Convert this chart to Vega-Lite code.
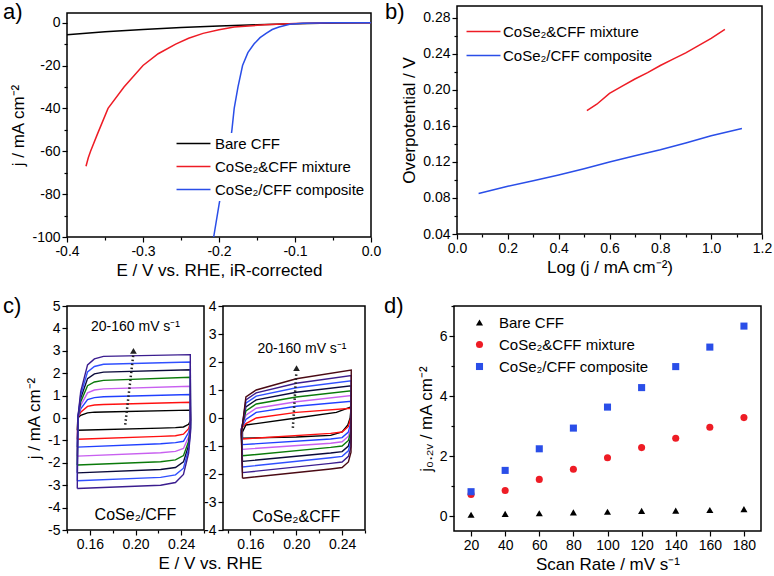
{
"$schema":"https://vega.github.io/schema/vega-lite/v6.json",
"background":"white",
"padding":{"left":2,"top":0,"right":0,"bottom":0},
"spacing":15,
"resolve":{"scale":{"color":"independent","shape":"independent"},"legend":{"color":"independent","shape":"independent"}},
"config":{
 "font":"Liberation Sans",
 "view":{"stroke":"black","strokeWidth":1.5},
 "axis":{"grid":false,"domain":false,"tickColor":"black","tickWidth":1.2,"tickSize":5,"labelColor":"black","titleColor":"black","labelFontSize":14,"titleFontSize":17,"titleFontWeight":"normal","labelPadding":2,"titlePadding":4,"labelFont":"Liberation Sans","titleFont":"Liberation Sans","labelOverlap":false,"labelFlush":false,"labelSeparation":0},
 "legend":{"labelFont":"Liberation Sans","labelFontSize":15,"labelColor":"black","labelLimit":400},
 "title":{"font":"Liberation Sans","fontWeight":"normal","fontSize":22,"color":"black","anchor":"start","frame":"group","orient":"top","baseline":"top","offset":0},
 "text":{"font":"Liberation Sans"}
},
"datasets":{
 "a":[
  {"s":"Bare CFF","x":-0.4,"y":-5.6},{"s":"Bare CFF","x":-0.35,"y":-4.3},{"s":"Bare CFF","x":-0.3,"y":-3.2},{"s":"Bare CFF","x":-0.25,"y":-2.3},{"s":"Bare CFF","x":-0.2,"y":-1.6},{"s":"Bare CFF","x":-0.15,"y":-1.0},{"s":"Bare CFF","x":-0.1,"y":-0.5},{"s":"Bare CFF","x":-0.05,"y":-0.2},{"s":"Bare CFF","x":0,"y":0},
  {"s":"CoSe₂&CFF mixture","x":-0.375,"y":-67},{"s":"CoSe₂&CFF mixture","x":-0.372,"y":-63},{"s":"CoSe₂&CFF mixture","x":-0.369,"y":-60},{"s":"CoSe₂&CFF mixture","x":-0.36,"y":-52},{"s":"CoSe₂&CFF mixture","x":-0.346,"y":-40},{"s":"CoSe₂&CFF mixture","x":-0.325,"y":-30},{"s":"CoSe₂&CFF mixture","x":-0.3,"y":-20},{"s":"CoSe₂&CFF mixture","x":-0.28,"y":-14.5},{"s":"CoSe₂&CFF mixture","x":-0.257,"y":-10},{"s":"CoSe₂&CFF mixture","x":-0.24,"y":-7.3},{"s":"CoSe₂&CFF mixture","x":-0.221,"y":-5},{"s":"CoSe₂&CFF mixture","x":-0.2,"y":-3.3},{"s":"CoSe₂&CFF mixture","x":-0.18,"y":-2},{"s":"CoSe₂&CFF mixture","x":-0.14,"y":-1},{"s":"CoSe₂&CFF mixture","x":-0.1,"y":-0.4},{"s":"CoSe₂&CFF mixture","x":-0.05,"y":-0.1},{"s":"CoSe₂&CFF mixture","x":0,"y":0},
  {"s":"CoSe₂/CFF composite","x":-0.207,"y":-100},{"s":"CoSe₂/CFF composite","x":-0.2,"y":-85},{"s":"CoSe₂/CFF composite","x":-0.195,"y":-75},{"s":"CoSe₂/CFF composite","x":-0.19,"y":-66},{"s":"CoSe₂/CFF composite","x":-0.186,"y":-58},{"s":"CoSe₂/CFF composite","x":-0.183,"y":-50},{"s":"CoSe₂/CFF composite","x":-0.18,"y":-40},{"s":"CoSe₂/CFF composite","x":-0.175,"y":-30},{"s":"CoSe₂/CFF composite","x":-0.169,"y":-20},{"s":"CoSe₂/CFF composite","x":-0.162,"y":-14},{"s":"CoSe₂/CFF composite","x":-0.154,"y":-10},{"s":"CoSe₂/CFF composite","x":-0.146,"y":-7},{"s":"CoSe₂/CFF composite","x":-0.138,"y":-5},{"s":"CoSe₂/CFF composite","x":-0.13,"y":-3.2},{"s":"CoSe₂/CFF composite","x":-0.121,"y":-2},{"s":"CoSe₂/CFF composite","x":-0.107,"y":-0.8},{"s":"CoSe₂/CFF composite","x":-0.09,"y":-0.3},{"s":"CoSe₂/CFF composite","x":-0.05,"y":-0.1},{"s":"CoSe₂/CFF composite","x":0,"y":0}
 ],
 "b":[
  {"s":"CoSe₂&CFF mixture","x":0.511,"y":0.177},{"s":"CoSe₂&CFF mixture","x":0.55,"y":0.184},{"s":"CoSe₂&CFF mixture","x":0.6,"y":0.196},{"s":"CoSe₂&CFF mixture","x":0.65,"y":0.204},{"s":"CoSe₂&CFF mixture","x":0.7,"y":0.212},{"s":"CoSe₂&CFF mixture","x":0.75,"y":0.219},{"s":"CoSe₂&CFF mixture","x":0.8,"y":0.227},{"s":"CoSe₂&CFF mixture","x":0.85,"y":0.234},{"s":"CoSe₂&CFF mixture","x":0.9,"y":0.241},{"s":"CoSe₂&CFF mixture","x":0.95,"y":0.249},{"s":"CoSe₂&CFF mixture","x":1.0,"y":0.257},{"s":"CoSe₂&CFF mixture","x":1.054,"y":0.267},
  {"s":"CoSe₂/CFF composite","x":0.085,"y":0.085},{"s":"CoSe₂/CFF composite","x":0.2,"y":0.093},{"s":"CoSe₂/CFF composite","x":0.3,"y":0.099},{"s":"CoSe₂/CFF composite","x":0.4,"y":0.1055},{"s":"CoSe₂/CFF composite","x":0.5,"y":0.1125},{"s":"CoSe₂/CFF composite","x":0.6,"y":0.12},{"s":"CoSe₂/CFF composite","x":0.7,"y":0.1268},{"s":"CoSe₂/CFF composite","x":0.8,"y":0.1334},{"s":"CoSe₂/CFF composite","x":0.9,"y":0.141},{"s":"CoSe₂/CFF composite","x":1.0,"y":0.149},{"s":"CoSe₂/CFF composite","x":1.121,"y":0.157}
 ],
 "cl":[
  {"k":1,"o":1,"x":0.149,"y":-0.55},{"k":1,"o":2,"x":0.1495,"y":0},{"k":1,"o":3,"x":0.152,"y":0.12},{"k":1,"o":4,"x":0.158,"y":0.23},{"k":1,"o":5,"x":0.164,"y":0.26},{"k":1,"o":6,"x":0.172,"y":0.27},{"k":1,"o":7,"x":0.248,"y":0.35},{"k":1,"o":8,"x":0.2482,"y":-0.11},{"k":1,"o":9,"x":0.2465,"y":-0.28},{"k":1,"o":10,"x":0.242,"y":-0.4},{"k":1,"o":11,"x":0.235,"y":-0.43},{"k":1,"o":12,"x":0.222,"y":-0.45},{"k":1,"o":13,"x":0.149,"y":-0.55},
  {"k":2,"o":1,"x":0.149,"y":-0.95},{"k":2,"o":2,"x":0.1495,"y":0},{"k":2,"o":3,"x":0.152,"y":0.26},{"k":2,"o":4,"x":0.158,"y":0.52},{"k":2,"o":5,"x":0.164,"y":0.58},{"k":2,"o":6,"x":0.172,"y":0.6},{"k":2,"o":7,"x":0.248,"y":0.7},{"k":2,"o":8,"x":0.2482,"y":-0.19},{"k":2,"o":9,"x":0.2465,"y":-0.48},{"k":2,"o":10,"x":0.242,"y":-0.72},{"k":2,"o":11,"x":0.235,"y":-0.79},{"k":2,"o":12,"x":0.222,"y":-0.82},{"k":2,"o":13,"x":0.149,"y":-0.95},
  {"k":3,"o":1,"x":0.149,"y":-1.3},{"k":3,"o":2,"x":0.1495,"y":0},{"k":3,"o":3,"x":0.152,"y":0.41},{"k":3,"o":4,"x":0.158,"y":0.82},{"k":3,"o":5,"x":0.164,"y":0.91},{"k":3,"o":6,"x":0.172,"y":0.95},{"k":3,"o":7,"x":0.248,"y":1.05},{"k":3,"o":8,"x":0.2482,"y":-0.26},{"k":3,"o":9,"x":0.2465,"y":-0.65},{"k":3,"o":10,"x":0.242,"y":-1.04},{"k":3,"o":11,"x":0.235,"y":-1.1},{"k":3,"o":12,"x":0.222,"y":-1.15},{"k":3,"o":13,"x":0.149,"y":-1.3},
  {"k":4,"o":1,"x":0.149,"y":-1.7},{"k":4,"o":2,"x":0.1495,"y":0},{"k":4,"o":3,"x":0.152,"y":0.56},{"k":4,"o":4,"x":0.158,"y":1.12},{"k":4,"o":5,"x":0.164,"y":1.25},{"k":4,"o":6,"x":0.172,"y":1.3},{"k":4,"o":7,"x":0.248,"y":1.42},{"k":4,"o":8,"x":0.2482,"y":-0.34},{"k":4,"o":9,"x":0.2465,"y":-0.85},{"k":4,"o":10,"x":0.242,"y":-1.36},{"k":4,"o":11,"x":0.235,"y":-1.49},{"k":4,"o":12,"x":0.222,"y":-1.55},{"k":4,"o":13,"x":0.149,"y":-1.7},
  {"k":5,"o":1,"x":0.149,"y":-2.1},{"k":5,"o":2,"x":0.1495,"y":0},{"k":5,"o":3,"x":0.152,"y":0.72},{"k":5,"o":4,"x":0.158,"y":1.44},{"k":5,"o":5,"x":0.164,"y":1.61},{"k":5,"o":6,"x":0.172,"y":1.68},{"k":5,"o":7,"x":0.248,"y":1.82},{"k":5,"o":8,"x":0.2482,"y":-0.42},{"k":5,"o":9,"x":0.2465,"y":-1.05},{"k":5,"o":10,"x":0.242,"y":-1.68},{"k":5,"o":11,"x":0.235,"y":-1.87},{"k":5,"o":12,"x":0.222,"y":-1.95},{"k":5,"o":13,"x":0.149,"y":-2.1},
  {"k":6,"o":1,"x":0.149,"y":-2.45},{"k":6,"o":2,"x":0.1495,"y":0},{"k":6,"o":3,"x":0.152,"y":0.88},{"k":6,"o":4,"x":0.158,"y":1.76},{"k":6,"o":5,"x":0.164,"y":1.97},{"k":6,"o":6,"x":0.172,"y":2.05},{"k":6,"o":7,"x":0.248,"y":2.15},{"k":6,"o":8,"x":0.2482,"y":-0.49},{"k":6,"o":9,"x":0.2465,"y":-1.23},{"k":6,"o":10,"x":0.242,"y":-1.96},{"k":6,"o":11,"x":0.235,"y":-2.21},{"k":6,"o":12,"x":0.222,"y":-2.3},{"k":6,"o":13,"x":0.149,"y":-2.45},
  {"k":7,"o":1,"x":0.149,"y":-2.8},{"k":7,"o":2,"x":0.1495,"y":0},{"k":7,"o":3,"x":0.152,"y":1.03},{"k":7,"o":4,"x":0.158,"y":2.06},{"k":7,"o":5,"x":0.164,"y":2.3},{"k":7,"o":6,"x":0.172,"y":2.4},{"k":7,"o":7,"x":0.248,"y":2.5},{"k":7,"o":8,"x":0.2482,"y":-0.56},{"k":7,"o":9,"x":0.2465,"y":-1.4},{"k":7,"o":10,"x":0.242,"y":-2.24},{"k":7,"o":11,"x":0.235,"y":-2.54},{"k":7,"o":12,"x":0.222,"y":-2.65},{"k":7,"o":13,"x":0.149,"y":-2.8},
  {"k":8,"o":1,"x":0.149,"y":-3.15},{"k":8,"o":2,"x":0.1495,"y":0},{"k":8,"o":3,"x":0.152,"y":1.18},{"k":8,"o":4,"x":0.158,"y":2.37},{"k":8,"o":5,"x":0.164,"y":2.64},{"k":8,"o":6,"x":0.172,"y":2.75},{"k":8,"o":7,"x":0.248,"y":2.83},{"k":8,"o":8,"x":0.2482,"y":-0.63},{"k":8,"o":9,"x":0.2465,"y":-1.58},{"k":8,"o":10,"x":0.242,"y":-2.52},{"k":8,"o":11,"x":0.235,"y":-2.88},{"k":8,"o":12,"x":0.222,"y":-3.0},{"k":8,"o":13,"x":0.149,"y":-3.15}
 ],
 "cr":[
  {"k":1,"o":1,"x":0.153,"y":-0.72},{"k":1,"o":2,"x":0.153,"y":-0.5},{"k":1,"o":3,"x":0.156,"y":-0.25},{"k":1,"o":4,"x":0.165,"y":-0.2},{"k":1,"o":5,"x":0.2,"y":0},{"k":1,"o":6,"x":0.235,"y":0.2},{"k":1,"o":7,"x":0.248,"y":0.4},{"k":1,"o":8,"x":0.247,"y":0.0},{"k":1,"o":9,"x":0.245,"y":-0.25},{"k":1,"o":10,"x":0.24,"y":-0.5},{"k":1,"o":11,"x":0.23,"y":-0.62},{"k":1,"o":12,"x":0.2,"y":-0.68},{"k":1,"o":13,"x":0.153,"y":-0.72},
  {"k":2,"o":1,"x":0.153,"y":-0.75},{"k":2,"o":2,"x":0.152,"y":-0.38},{"k":2,"o":3,"x":0.156,"y":-0.2},{"k":2,"o":4,"x":0.165,"y":0},{"k":2,"o":5,"x":0.2,"y":0.2},{"k":2,"o":6,"x":0.248,"y":0.35},{"k":2,"o":7,"x":0.2478,"y":0.05},{"k":2,"o":8,"x":0.2455,"y":-0.3},{"k":2,"o":9,"x":0.24,"y":-0.5},{"k":2,"o":10,"x":0.23,"y":-0.55},{"k":2,"o":11,"x":0.153,"y":-0.75},
  {"k":3,"o":1,"x":0.153,"y":-0.95},{"k":3,"o":2,"x":0.152,"y":-0.38},{"k":3,"o":3,"x":0.156,"y":-0.05},{"k":3,"o":4,"x":0.165,"y":0.2},{"k":3,"o":5,"x":0.2,"y":0.42},{"k":3,"o":6,"x":0.248,"y":0.6},{"k":3,"o":7,"x":0.2478,"y":-0.15},{"k":3,"o":8,"x":0.2455,"y":-0.5},{"k":3,"o":9,"x":0.24,"y":-0.7},{"k":3,"o":10,"x":0.23,"y":-0.75},{"k":3,"o":11,"x":0.153,"y":-0.95},
  {"k":4,"o":1,"x":0.153,"y":-1.12},{"k":4,"o":2,"x":0.152,"y":-0.39},{"k":4,"o":3,"x":0.156,"y":0.1},{"k":4,"o":4,"x":0.165,"y":0.35},{"k":4,"o":5,"x":0.2,"y":0.58},{"k":4,"o":6,"x":0.248,"y":0.8},{"k":4,"o":7,"x":0.2478,"y":-0.3},{"k":4,"o":8,"x":0.2455,"y":-0.65},{"k":4,"o":9,"x":0.24,"y":-0.85},{"k":4,"o":10,"x":0.23,"y":-0.9},{"k":4,"o":11,"x":0.153,"y":-1.12},
  {"k":5,"o":1,"x":0.153,"y":-1.35},{"k":5,"o":2,"x":0.152,"y":-0.43},{"k":5,"o":3,"x":0.156,"y":0.25},{"k":5,"o":4,"x":0.165,"y":0.5},{"k":5,"o":5,"x":0.2,"y":0.75},{"k":5,"o":6,"x":0.248,"y":0.97},{"k":5,"o":7,"x":0.2478,"y":-0.45},{"k":5,"o":8,"x":0.2455,"y":-0.8},{"k":5,"o":9,"x":0.24,"y":-1.0},{"k":5,"o":10,"x":0.23,"y":-1.05},{"k":5,"o":11,"x":0.153,"y":-1.35},
  {"k":6,"o":1,"x":0.153,"y":-1.55},{"k":6,"o":2,"x":0.152,"y":-0.45},{"k":6,"o":3,"x":0.156,"y":0.4},{"k":6,"o":4,"x":0.165,"y":0.65},{"k":6,"o":5,"x":0.2,"y":0.92},{"k":6,"o":6,"x":0.248,"y":1.15},{"k":6,"o":7,"x":0.2478,"y":-0.65},{"k":6,"o":8,"x":0.2455,"y":-1.0},{"k":6,"o":9,"x":0.24,"y":-1.2},{"k":6,"o":10,"x":0.23,"y":-1.25},{"k":6,"o":11,"x":0.153,"y":-1.55},
  {"k":7,"o":1,"x":0.153,"y":-1.75},{"k":7,"o":2,"x":0.152,"y":-0.49},{"k":7,"o":3,"x":0.156,"y":0.53},{"k":7,"o":4,"x":0.165,"y":0.78},{"k":7,"o":5,"x":0.2,"y":1.08},{"k":7,"o":6,"x":0.248,"y":1.33},{"k":7,"o":7,"x":0.2478,"y":-0.82},{"k":7,"o":8,"x":0.2455,"y":-1.17},{"k":7,"o":9,"x":0.24,"y":-1.37},{"k":7,"o":10,"x":0.23,"y":-1.42},{"k":7,"o":11,"x":0.153,"y":-1.75},
  {"k":8,"o":1,"x":0.153,"y":-1.95},{"k":8,"o":2,"x":0.152,"y":-0.53},{"k":8,"o":3,"x":0.156,"y":0.65},{"k":8,"o":4,"x":0.165,"y":0.9},{"k":8,"o":5,"x":0.2,"y":1.24},{"k":8,"o":6,"x":0.248,"y":1.52},{"k":8,"o":7,"x":0.2478,"y":-1.02},{"k":8,"o":8,"x":0.2455,"y":-1.37},{"k":8,"o":9,"x":0.24,"y":-1.57},{"k":8,"o":10,"x":0.23,"y":-1.62},{"k":8,"o":11,"x":0.153,"y":-1.95},
  {"k":9,"o":1,"x":0.153,"y":-2.15},{"k":9,"o":2,"x":0.152,"y":-0.58},{"k":9,"o":3,"x":0.156,"y":0.75},{"k":9,"o":4,"x":0.165,"y":1.0},{"k":9,"o":5,"x":0.2,"y":1.4},{"k":9,"o":6,"x":0.248,"y":1.71},{"k":9,"o":7,"x":0.2478,"y":-1.22},{"k":9,"o":8,"x":0.2455,"y":-1.57},{"k":9,"o":9,"x":0.24,"y":-1.77},{"k":9,"o":10,"x":0.23,"y":-1.82},{"k":9,"o":11,"x":0.153,"y":-2.15}
 ],
 "d":[
  {"s":"Bare CFF","x":20,"y":0.04},{"s":"Bare CFF","x":40,"y":0.07},{"s":"Bare CFF","x":60,"y":0.09},{"s":"Bare CFF","x":80,"y":0.12},{"s":"Bare CFF","x":100,"y":0.14},{"s":"Bare CFF","x":120,"y":0.17},{"s":"Bare CFF","x":140,"y":0.18},{"s":"Bare CFF","x":160,"y":0.2},{"s":"Bare CFF","x":180,"y":0.23},
  {"s":"CoSe₂&CFF mixture","x":20,"y":0.72},{"s":"CoSe₂&CFF mixture","x":40,"y":0.85},{"s":"CoSe₂&CFF mixture","x":60,"y":1.22},{"s":"CoSe₂&CFF mixture","x":80,"y":1.56},{"s":"CoSe₂&CFF mixture","x":100,"y":1.94},{"s":"CoSe₂&CFF mixture","x":120,"y":2.28},{"s":"CoSe₂&CFF mixture","x":140,"y":2.59},{"s":"CoSe₂&CFF mixture","x":160,"y":2.96},{"s":"CoSe₂&CFF mixture","x":180,"y":3.28},
  {"s":"CoSe₂/CFF composite","x":20,"y":0.81},{"s":"CoSe₂/CFF composite","x":40,"y":1.52},{"s":"CoSe₂/CFF composite","x":60,"y":2.24},{"s":"CoSe₂/CFF composite","x":80,"y":2.93},{"s":"CoSe₂/CFF composite","x":100,"y":3.63},{"s":"CoSe₂/CFF composite","x":120,"y":4.28},{"s":"CoSe₂/CFF composite","x":140,"y":4.98},{"s":"CoSe₂/CFF composite","x":160,"y":5.63},{"s":"CoSe₂/CFF composite","x":180,"y":6.33}
 ]
},
"vconcat":[
 {"hconcat":[
  {"vconcat":[
   {"width":304,"height":7,"data":{"values":[{"v":0}]},"mark":{"type":"point","opacity":0},"view":{"stroke":null}},
   {"width":304,"height":224,
    "title":{"text":"a)","dx":-64,"dy":15},
    "data":{"name":"a"},
    "mark":{"type":"line","strokeWidth":1.5,"clip":true},
    "encoding":{
     "x":{"field":"x","type":"quantitative","scale":{"domain":[-0.4,0],"nice":false,"zero":false},
      "axis":{"title":"E / V vs. RHE, iR-corrected","values":[-0.4,-0.35,-0.3,-0.25,-0.2,-0.15,-0.1,-0.05,0],"labelOverlap":false,
       "labelExpr":"abs(datum.value*10-round(datum.value*10))<0.01 ? replace(format(datum.value,'.1f'),'−','-') : ''",
       "tickSize":{"condition":{"test":"abs(datum.value*10-round(datum.value*10))<0.01","value":5},"value":3}}},
     "y":{"field":"y","type":"quantitative","scale":{"domain":[-100,4.5],"nice":false,"zero":false},
      "axis":{"title":"j / mA cm⁻²","values":[-100,-90,-80,-70,-60,-50,-40,-30,-20,-10,0],"labelOverlap":false,
       "labelExpr":"datum.value % 20 == 0 ? ''+datum.value : ''",
       "tickSize":{"condition":{"test":"datum.value % 20 == 0","value":5},"value":3}}},
     "color":{"field":"s","type":"nominal","scale":{"domain":["Bare CFF","CoSe₂&CFF mixture","CoSe₂/CFF composite"],"range":["#000000","#ee1c25","#2a4ee8"]},
      "legend":{"orient":"none","legendX":116,"legendY":127,"title":null,"fillColor":"white","padding":3,"symbolType":"M-4,0H4","symbolSize":72,"symbolStrokeWidth":1.5,"labelFontSize":15,"rowPadding":7,"labelOffset":14}}
    }
   }
  ],"spacing":0,"bounds":"flush"},
  {"width":305,"height":228,
   "title":{"text":"b)","dx":-72,"dy":22},
   "data":{"name":"b"},
   "mark":{"type":"line","strokeWidth":1.5},
   "encoding":{
    "x":{"field":"x","type":"quantitative","scale":{"domain":[0,1.2],"nice":false,"zero":false},
     "axis":{"title":"Log (j / mA cm⁻²)","values":[0,0.1,0.2,0.3,0.4,0.5,0.6,0.7,0.8,0.9,1.0,1.1,1.2],"labelOverlap":false,
      "labelExpr":"abs(datum.value*5-round(datum.value*5))<0.01 ? format(datum.value,'.1f') : ''",
      "tickSize":{"condition":{"test":"abs(datum.value*5-round(datum.value*5))<0.01","value":5},"value":3}}},
    "y":{"field":"y","type":"quantitative","scale":{"domain":[0.04,0.293],"nice":false,"zero":false},
     "axis":{"title":"Overpotential / V","values":[0.04,0.06,0.08,0.1,0.12,0.14,0.16,0.18,0.2,0.22,0.24,0.26,0.28],"labelOverlap":false,
      "labelExpr":"abs(datum.value*25-round(datum.value*25))<0.01 ? format(datum.value,'.2f') : ''",
      "tickSize":{"condition":{"test":"abs(datum.value*25-round(datum.value*25))<0.01","value":5},"value":3}}},
    "color":{"field":"s","type":"nominal","scale":{"domain":["CoSe₂&CFF mixture","CoSe₂/CFF composite"],"range":["#ee1c25","#2a4ee8"]},
     "legend":{"orient":"none","legendX":19,"legendY":18,"title":null,"padding":0,"symbolType":"M-4,0H4","symbolSize":72,"symbolStrokeWidth":1.5,"labelFontSize":15,"rowPadding":8,"labelOffset":12}}
   }
  }
 ],"spacing":2,"resolve":{"scale":{"color":"independent"},"legend":{"color":"independent"}}},
 {"hconcat":[
  {"hconcat":[
   {"width":137,"height":224,
    "title":{"text":"c)","dx":-64,"dy":23},
    "encoding":{
     "x":{"field":"x","type":"quantitative","scale":{"domain":[0.14,0.26],"nice":false,"zero":false},
      "axis":{"title":"E / V vs. RHE","titleX":143,"titleAlign":"center","values":[0.14,0.16,0.18,0.2,0.22,0.24,0.26],"labelOverlap":false,
       "labelExpr":"abs(datum.value*25-round(datum.value*25))<0.01 ? format(datum.value,'.2f') : ''",
       "tickSize":{"condition":{"test":"abs(datum.value*25-round(datum.value*25))<0.01","value":5},"value":3}}},
     "y":{"field":"y","type":"quantitative","scale":{"domain":[-5,5],"nice":false,"zero":false},
      "axis":{"title":"j / mA cm⁻²","values":[-5,-4,-3,-2,-1,0,1,2,3,4,5],"labelOverlap":false,"labelExpr":"''+datum.value"}}
    },
    "layer":[
     {"data":{"name":"cl"},
      "mark":{"type":"line","strokeWidth":1.4},
      "encoding":{
       "color":{"field":"k","type":"nominal","scale":{"domain":[1,2,3,4,5,6,7,8],"range":["#000000","#ff1010","#2040ff","#c860f0","#0a7a0a","#0a0a3a","#3050ff","#3b1d8f"]},"legend":null},
       "order":{"field":"o","type":"quantitative"}
      }},
     {"data":{"values":[{"x":0.191,"y":-0.3,"x2":0.198,"y2":2.8}]},
      "mark":{"type":"rule","strokeWidth":2.5,"strokeDash":[1.5,2.5],"color":"#222222"},
      "encoding":{"x2":{"field":"x2"},"y2":{"field":"y2"}}},
     {"data":{"values":[{"x":0.1982,"y":3.0}]},
      "mark":{"type":"point","shape":"triangle-up","filled":true,"size":45,"color":"#222222","opacity":1}},
     {"data":{"values":[{"x":0.2,"y":4.05,"t":"20-160 mV s⁻¹","f":14},{"x":0.2,"y":-4.35,"t":"CoSe₂/CFF","f":16}]},
      "mark":{"type":"text","color":"black","fontSize":15},
      "encoding":{"text":{"field":"t"},"size":{"field":"f","type":"quantitative","scale":null}}}
    ]
   },
   {"width":142,"height":224,
    "encoding":{
     "x":{"field":"x","type":"quantitative","scale":{"domain":[0.136,0.26],"nice":false,"zero":false},
      "axis":{"title":null,"values":[0.14,0.16,0.18,0.2,0.22,0.24,0.26],"labelOverlap":false,
       "labelExpr":"abs(datum.value*25-round(datum.value*25))<0.01 ? format(datum.value,'.2f') : ''",
       "tickSize":{"condition":{"test":"abs(datum.value*25-round(datum.value*25))<0.01","value":5},"value":3}}},
     "y":{"field":"y","type":"quantitative","scale":{"domain":[-4,4],"nice":false,"zero":false},
      "axis":{"title":null,"values":[-4,-3,-2,-1,0,1,2,3,4],"labelOverlap":false,"labelExpr":"''+datum.value"}}
    },
    "layer":[
     {"data":{"name":"cr"},
      "mark":{"type":"line","strokeWidth":1.4},
      "encoding":{
       "color":{"field":"k","type":"nominal","scale":{"domain":[1,2,3,4,5,6,7,8,9],"range":["#000000","#ff1010","#2040ff","#c860f0","#0a7a0a","#0a0a3a","#3050ff","#3b1d8f","#4a0a14"]},"legend":null},
       "order":{"field":"o","type":"quantitative"}
      }},
     {"data":{"values":[{"x":0.197,"y":-0.35,"x2":0.2,"y2":1.6}]},
      "mark":{"type":"rule","strokeWidth":2.5,"strokeDash":[1.5,2.5],"color":"#222222"},
      "encoding":{"x2":{"field":"x2"},"y2":{"field":"y2"}}},
     {"data":{"values":[{"x":0.2002,"y":1.78}]},
      "mark":{"type":"point","shape":"triangle-up","filled":true,"size":45,"color":"#222222","opacity":1}},
     {"data":{"values":[{"x":0.205,"y":2.45,"t":"20-160 mV s⁻¹","f":14},{"x":0.2,"y":-3.55,"t":"CoSe₂&CFF","f":16}]},
      "mark":{"type":"text","color":"black","fontSize":15},
      "encoding":{"text":{"field":"t"},"size":{"field":"f","type":"quantitative","scale":null}}}
    ]
   }
  ],"spacing":19,"bounds":"flush","resolve":{"scale":{"color":"independent","x":"independent","y":"independent"}}},
  {"width":307,"height":225,
   "title":{"text":"d)","dx":-70,"dy":23},
   "data":{"name":"d"},
   "mark":{"type":"point","filled":true,"size":50,"opacity":1},
   "encoding":{
    "x":{"field":"x","type":"quantitative","scale":{"domain":[10,190],"nice":false,"zero":false},
     "axis":{"title":"Scan Rate / mV s⁻¹","values":[20,40,60,80,100,120,140,160,180],"labelOverlap":false}},
    "y":{"field":"y","type":"quantitative","scale":{"domain":[-0.5,7],"nice":false,"zero":false},
     "axis":{"title":"j₀.₂ᵥ / mA cm⁻²","values":[0,1,2,3,4,5,6,7],"labelOverlap":false,
      "labelExpr":"datum.value % 2 == 0 ? ''+datum.value : ''",
      "tickSize":{"condition":{"test":"datum.value % 2 == 0","value":5},"value":3}}},
    "color":{"field":"s","type":"nominal","scale":{"domain":["Bare CFF","CoSe₂&CFF mixture","CoSe₂/CFF composite"],"range":["#000000","#ee1c25","#2a4ee8"]},
     "legend":{"orient":"none","legendX":18,"legendY":9,"title":null,"labelFontSize":15,"rowPadding":6,"symbolSize":50,"labelOffset":12}},
    "shape":{"field":"s","type":"nominal","scale":{"domain":["Bare CFF","CoSe₂&CFF mixture","CoSe₂/CFF composite"],"range":["triangle-up","circle","square"]},
     "legend":{"orient":"none","legendX":18,"legendY":9,"title":null,"labelFontSize":15,"rowPadding":6,"symbolSize":50,"labelOffset":12}}
   }
  }
 ],"spacing":16,"resolve":{"scale":{"color":"independent","shape":"independent"},"legend":{"color":"independent","shape":"independent"}}}
]
}
